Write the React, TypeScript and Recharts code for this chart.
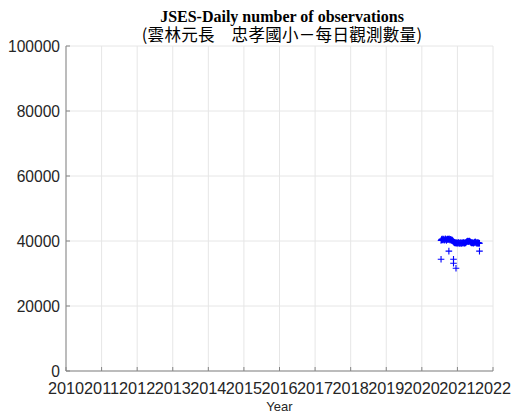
import { CartesianGrid, Scatter, ScatterChart, XAxis, YAxis } from "recharts";

const yearTicks = [2010, 2011, 2012, 2013, 2014, 2015, 2016, 2017, 2018, 2019, 2020, 2021, 2022];
const countTicks = [0, 20000, 40000, 60000, 80000, 100000];

// daily observation counts (decimal year, count)
const obsYear = [
  2020.54, 2020.555, 2020.57, 2020.585, 2020.6, 2020.615, 2020.63, 2020.645, 2020.66, 2020.675, 2020.69,
  2020.705, 2020.72, 2020.735, 2020.75, 2020.765, 2020.78, 2020.795, 2020.81, 2020.825, 2020.84, 2020.855,
  2020.87, 2020.885, 2020.9, 2020.915, 2020.93, 2020.945, 2020.96,
  2020.975, 2020.99, 2021.005, 2021.02, 2021.035, 2021.05, 2021.065, 2021.08, 2021.095, 2021.11, 2021.125,
  2021.14, 2021.155, 2021.17, 2021.185, 2021.2, 2021.215, 2021.23, 2021.245, 2021.26, 2021.275, 2021.29,
  2021.305, 2021.32, 2021.335, 2021.35, 2021.365, 2021.38, 2021.395, 2021.41, 2021.425, 2021.44, 2021.455,
  2021.47, 2021.485, 2021.5, 2021.515, 2021.53, 2021.545, 2021.56, 2021.575, 2021.59, 2021.605, 2021.62,
];
const obsCount = [
  40150, 40420, 40580, 40310, 40600, 40480, 40250, 40390, 40650, 40530, 40200,
  40440, 40610, 40370, 40520, 40700, 40460, 40280, 40550, 40400, 40180, 40300,
  40050, 39800, 39650, 39500, 39420, 39380, 39450,
  39350, 39480, 39300, 39420, 39550, 39280, 39400, 39330, 39500, 39260, 39380,
  39450, 39310, 39520, 39400, 39350, 39480, 39420, 39600, 39750, 39900, 39980,
  39800, 39920, 40020, 39850, 39700, 39520, 39420, 39560, 39380, 39450, 39300,
  39480, 39620, 39750, 39580, 39400, 39350, 39500, 39280, 39420, 39360, 39300,
];

// scattered low days
const lowYear = [2020.54, 2020.76, 2020.89, 2020.89, 2020.96, 2021.62];
const lowCount = [34370, 36900, 34370, 33140, 31600, 36900];

const points = [
  ...obsYear.map((year, i) => ({ year, count: obsCount[i] })),
  ...lowYear.map((year, i) => ({ year, count: lowCount[i] })),
];

const axisColor = "#858585";
const sans = "'Liberation Sans', Arial, sans-serif";

function PlusMark(props: any) {
  const { cx, cy } = props;
  if (cx == null || cy == null) return null;
  return (
    <path
      d={`M${cx - 3.3},${cy}H${cx + 3.3}M${cx},${cy - 3.3}V${cy + 3.3}`}
      stroke="#0000ff"
      strokeWidth={1.1}
      fill="none"
    />
  );
}

export default function App() {
  return (
    <div style={{ position: "absolute", left: 0, top: 0, width: 511, height: 415, background: "#fff" }}>
      <svg width={511} height={415} style={{ position: "absolute", left: 0, top: 0 }}>
        <text
          x={282}
          y={22}
          textAnchor="middle"
          fontFamily="'Liberation Serif', 'Times New Roman', serif"
          fontWeight="bold"
          fontSize={16}
          fill="#000"
        >
          JSES-Daily number of observations
        </text>
        <text
          x={282}
          y={41}
          textAnchor="middle"
          fontFamily="'Noto Sans CJK TC', sans-serif"
          fontSize={16.5}
          letterSpacing={0.3}
          fill="#000"
        >
          (雲林元長　忠孝國小－每日觀測數量)
        </text>
      </svg>
      <div style={{ position: "absolute", left: 0, top: 0 }}>
        <ScatterChart width={511} height={415} margin={{ top: 46, right: 18, bottom: 0, left: 0 }}>
          <CartesianGrid stroke="#e6e6e6" />
          <XAxis
            dataKey="year"
            type="number"
            domain={[2010, 2022]}
            ticks={yearTicks}
            interval={0}
            height={44}
            stroke={axisColor}
            tickSize={-4}
            tickMargin={15}
            tick={{ fill: "#262626", fontSize: 16.3, fontFamily: sans }}
            label={{ value: "Year", position: "insideBottom", offset: 4, fill: "#262626", fontSize: 13, fontFamily: sans }}
          />
          <XAxis
            xAxisId="top"
            orientation="top"
            type="number"
            domain={[2010, 2022]}
            ticks={yearTicks}
            interval={0}
            height={0}
            stroke={axisColor}
            tickSize={-4}
            tick={false}
          />
          <YAxis
            dataKey="count"
            type="number"
            domain={[0, 100000]}
            ticks={countTicks}
            interval={0}
            width={66}
            stroke={axisColor}
            tickSize={-4}
            tickMargin={10}
            tick={{ fill: "#262626", fontSize: 15.6, fontFamily: sans }}
          />
          <YAxis
            yAxisId="right"
            orientation="right"
            type="number"
            domain={[0, 100000]}
            ticks={countTicks}
            interval={0}
            width={0}
            stroke={axisColor}
            tickSize={-4}
            tick={false}
          />
          <Scatter data={points} shape={PlusMark} isAnimationActive={false} />
        </ScatterChart>
      </div>
    </div>
  );
}
